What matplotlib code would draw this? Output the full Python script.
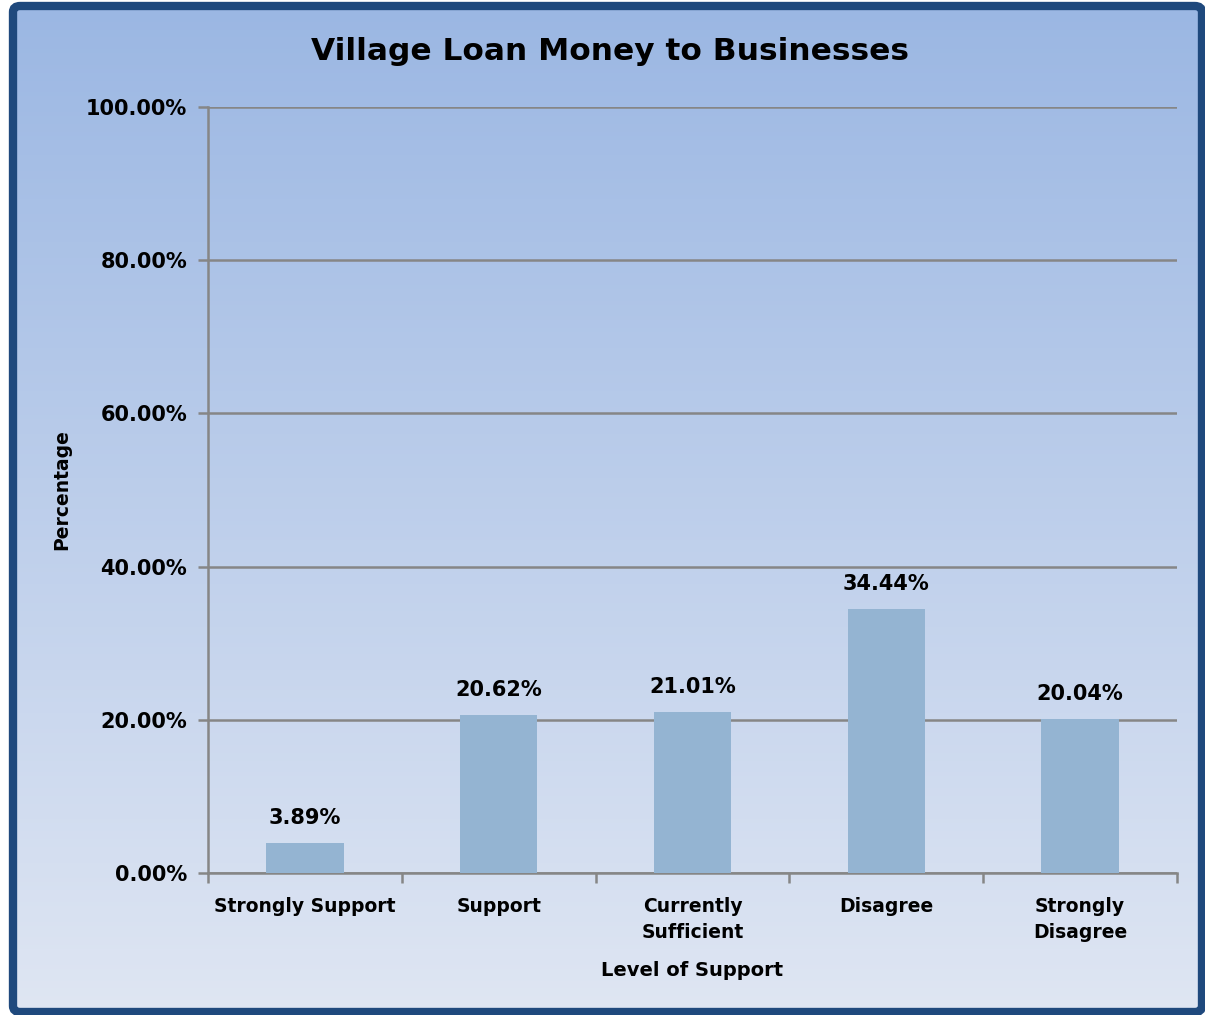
import numpy as np
import matplotlib.pyplot as plt
import matplotlib.patches as patches
from matplotlib.colors import LinearSegmentedColormap
from matplotlib.ticker import FuncFormatter

categories = ["Strongly Support", "Support", "Currently\nSufficient", "Disagree", "Strongly\nDisagree"]
percent = [3.89, 20.62, 21.01, 34.44, 20.04]
labels = ["3.89%", "20.62%", "21.01%", "34.44%", "20.04%"]

plt.rcParams['font.family'] = ['DejaVu Sans']
plt.rcParams['font.weight'] = 'bold'

fig = plt.figure(figsize=(12.05, 10.15), dpi=100, facecolor='white')
W, H = 1205, 1015

# gradient background inside the frame
fl, fr, ft, fb = 13, 1202, 6, 1012
bg = fig.add_axes([fl / W, 1 - fb / H, (fr - fl) / W, (fb - ft) / H], zorder=-10)
grad = LinearSegmentedColormap.from_list("bg", ["#dfe6f3", "#9bb7e3"])
bg.imshow(np.linspace(0, 1, 256).reshape(-1, 1), aspect='auto', cmap=grad,
          origin='lower', extent=(0, 1, 0, 1))
bg.set_xlim(0, 1)
bg.set_ylim(0, 1)
bg.axis('off')

# dark blue frame
frame = patches.FancyBboxPatch((fl / W, 1 - fb / H), (fr - fl) / W, (fb - ft) / H,
                               boxstyle="round,pad=0,rounding_size=0.006",
                               transform=fig.transFigure, fill=False,
                               edgecolor="#1f497d", linewidth=6)
fig.add_artist(frame)

ax = fig.add_axes([208 / W, 1 - 873 / H, (1177 - 208) / W, (873 - 107) / H])
ax.set_facecolor('none')
x = np.arange(len(categories))
bars = ax.bar(x, percent, width=0.4, color="#94b4d2", zorder=3)
ax.bar_label(bars, labels=labels, padding=11, fontsize=15, fontweight='bold')

ax.set_xlim(-0.5, len(categories) - 0.5)
ax.set_ylim(0, 100)
ax.set_yticks(np.arange(0, 101, 20))
ax.yaxis.set_major_formatter(FuncFormatter(lambda v, p: f"{v:.2f}%"))
ax.grid(axis='y', color="#868686", linewidth=1.8, zorder=1)
ax.set_xticks(x)
ax.set_xticklabels(categories, fontsize=13.5, fontweight='bold', linespacing=1.5)
ax.set_xticks(np.arange(-0.5, len(categories)), minor=True)
ax.tick_params(axis='x', which='major', length=0, pad=17)
ax.tick_params(axis='x', which='minor', length=7, width=1.8, color="#868686")
ax.tick_params(axis='y', length=7, width=1.8, color="#868686", labelsize=15, pad=8)
for lab in ax.get_yticklabels():
    lab.set_fontweight('bold')

for s in ['top', 'right']:
    ax.spines[s].set_visible(False)
for s in ['left', 'bottom']:
    ax.spines[s].set_color("#868686")
    ax.spines[s].set_linewidth(1.8)

ax.set_xlabel("Level of Support", fontsize=14, fontweight='bold', va='center')
ax.xaxis.set_label_coords(0.5, -(970 - 873) / (873 - 107))
ax.set_ylabel("Percentage", fontsize=13.5, fontweight='bold', va='center')
ax.yaxis.set_label_coords(-(208 - 62) / (1177 - 208), 0.5)
fig.text(610 / W, 1 - 52 / H, "Village Loan Money to Businesses", ha='center', va='center',
         fontsize=22.5, fontweight='bold')

fig.savefig("out.png", dpi=100, facecolor='white')
